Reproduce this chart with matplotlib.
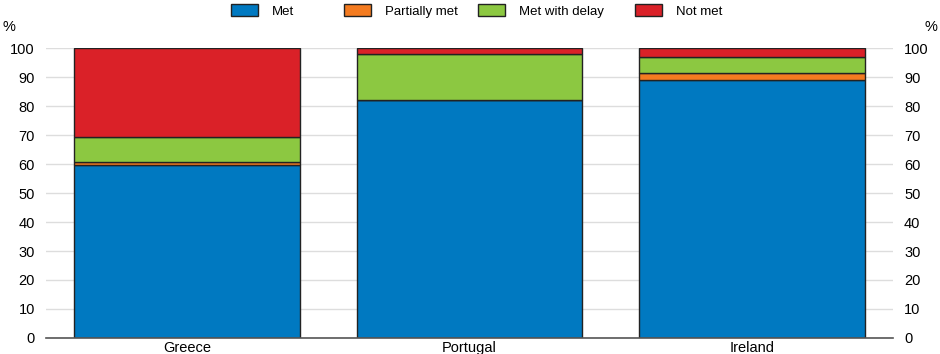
import matplotlib
matplotlib.use("Agg")
import matplotlib.pyplot as plt
import numpy as np

plt.rcParams['font.family'] = ['Liberation Sans', 'DejaVu Sans']

categories = ["Greece", "Portugal", "Ireland"]
series_names = ["Met", "Partially met", "Met with delay", "Not met"]
met = [59.6, 82.1, 89.0]
partially_met = [1.2, 0.0, 2.5]
met_with_delay = [8.6, 15.7, 5.5]
not_met = [30.6, 2.2, 3.0]
colors = ["#0079C1", "#F47B20", "#8CC841", "#DA2128"]
yticks = [0, 10, 20, 30, 40, 50, 60, 70, 80, 90, 100]

fig = plt.figure(figsize=(9.4, 3.54), dpi=100)
ax = fig.add_axes([0.049, 0.0452, 0.901, 0.8192])

x = np.arange(len(categories))
bottom = np.zeros(len(categories))
handles = []
for name, vals, c in zip(series_names, [met, partially_met, met_with_delay, not_met], colors):
    vals = np.array(vals)
    b = ax.bar(x, vals, 0.8, bottom=bottom, color=c, edgecolor="#222222", linewidth=1.0,
               label=name, zorder=3)
    handles.append(b)
    bottom += vals

ax.set_xlim(-0.5, 2.5)
ax.set_ylim(0, 100)
ax.set_yticks(yticks)
ax.set_xticks(x)
ax.set_xticklabels(categories)
ax.grid(axis='y', color="#dddddd", linewidth=1.0, zorder=0)
for s in ["top", "left", "right"]:
    ax.spines[s].set_visible(False)
ax.spines["bottom"].set_color("#555555")
ax.spines["bottom"].set_linewidth(1.2)
ax.spines["bottom"].set_zorder(4)
ax.tick_params(axis='both', length=0, labelsize=10.5, colors="#000000")
ax.tick_params(axis='y', pad=8, labelright=True, labelleft=True)
ax.tick_params(axis='x', pad=2)

fig.text(0.003, 0.905, "%", fontsize=10.5, ha="left", va="bottom")
fig.text(0.997, 0.905, "%", fontsize=10.5, ha="right", va="bottom")

# legend entries placed individually (handle left edges in figure pixels)
leg_x_px = [231, 344, 478, 635]
for h, name, xp in zip(handles, series_names, leg_x_px):
    lg = fig.legend(handles=[h], labels=[name], loc="center left",
                    bbox_to_anchor=(xp / 940, 1 - 11 / 354), frameon=False,
                    fontsize=9.5, handlelength=2.05, handleheight=1.0,
                    handletextpad=1.05, borderpad=0, borderaxespad=0)

fig.savefig("out.png", dpi=100)
